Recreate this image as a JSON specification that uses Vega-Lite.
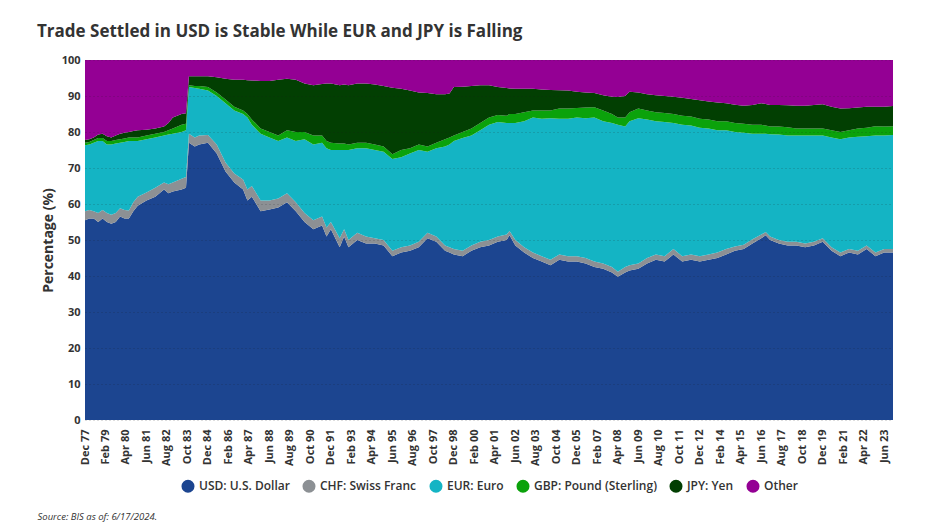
{
  "$schema": "https://vega.github.io/schema/vega-lite/v6.json",
  "width": 808,
  "height": 360,
  "autosize": "none",
  "padding": {"left": 85, "top": 60, "right": 50, "bottom": 109},
  "background": "white",
  "config": {
    "font": "Open Sans",
    "view": {"stroke": null}
  },
  "title": {
    "text": "Trade Settled in USD is Stable While EUR and JPY is Falling",
    "anchor": "start",
    "frame": "group",
    "dx": -48,
    "offset": 13,
    "fontSize": 17,
    "fontWeight": "bold",
    "color": "#333333"
  },
  "data": {
    "values": [
      {"d":"1977-12-01","USD":55.5,"CHF":2.5,"EUR":18.3,"GBP":0.7,"JPY":0.8,"Other":22.2},
      {"d":"1978-03-01","USD":56,"CHF":2.3,"EUR":18.2,"GBP":0.7,"JPY":0.8,"Other":22},
      {"d":"1978-06-01","USD":56,"CHF":2,"EUR":19,"GBP":0.8,"JPY":0.7,"Other":21.5},
      {"d":"1978-09-01","USD":55,"CHF":2.5,"EUR":20,"GBP":0.8,"JPY":1,"Other":20.7},
      {"d":"1978-12-01","USD":56,"CHF":2.3,"EUR":19.2,"GBP":0.8,"JPY":1.2,"Other":20.5},
      {"d":"1979-03-01","USD":55,"CHF":2.5,"EUR":19,"GBP":1,"JPY":1.3,"Other":21.2},
      {"d":"1979-06-01","USD":54.5,"CHF":2.5,"EUR":19.5,"GBP":1,"JPY":1,"Other":21.5},
      {"d":"1979-09-01","USD":55,"CHF":2.5,"EUR":19.3,"GBP":1,"JPY":1.2,"Other":21},
      {"d":"1979-12-01","USD":56.5,"CHF":2.3,"EUR":18.2,"GBP":1,"JPY":1.5,"Other":20.5},
      {"d":"1980-03-01","USD":56,"CHF":2.3,"EUR":18.9,"GBP":1,"JPY":1.6,"Other":20.2},
      {"d":"1980-06-01","USD":56,"CHF":2.2,"EUR":19.3,"GBP":1,"JPY":1.5,"Other":20},
      {"d":"1980-09-01","USD":58,"CHF":2.5,"EUR":17,"GBP":1,"JPY":1.8,"Other":19.7},
      {"d":"1980-12-01","USD":59.5,"CHF":2.5,"EUR":15.5,"GBP":1,"JPY":2,"Other":19.5},
      {"d":"1981-06-01","USD":61,"CHF":2.2,"EUR":14.8,"GBP":1,"JPY":1.6,"Other":19.4},
      {"d":"1981-12-01","USD":62,"CHF":2.5,"EUR":14,"GBP":1,"JPY":1.5,"Other":19},
      {"d":"1982-06-01","USD":64,"CHF":2,"EUR":13,"GBP":1,"JPY":1.5,"Other":18.5},
      {"d":"1982-09-01","USD":63,"CHF":2.5,"EUR":13.8,"GBP":1.2,"JPY":2,"Other":17.5},
      {"d":"1982-12-01","USD":63.5,"CHF":2.5,"EUR":13.5,"GBP":1.5,"JPY":3,"Other":16},
      {"d":"1983-06-01","USD":64,"CHF":3,"EUR":13,"GBP":2,"JPY":3,"Other":15},
      {"d":"1983-09-01","USD":64.5,"CHF":3,"EUR":13,"GBP":1.8,"JPY":2.9,"Other":14.8},
      {"d":"1983-11-01","USD":77,"CHF":2.5,"EUR":13,"GBP":0.5,"JPY":2.5,"Other":4.5},
      {"d":"1984-03-01","USD":76,"CHF":2.5,"EUR":13.7,"GBP":0.6,"JPY":2.7,"Other":4.5},
      {"d":"1984-06-01","USD":76.5,"CHF":2.5,"EUR":13,"GBP":0.8,"JPY":2.7,"Other":4.5},
      {"d":"1984-12-01","USD":77,"CHF":2.2,"EUR":12.3,"GBP":1,"JPY":3,"Other":4.5},
      {"d":"1985-06-01","USD":74,"CHF":2.5,"EUR":13.5,"GBP":1,"JPY":4.2,"Other":4.8},
      {"d":"1985-12-01","USD":69,"CHF":2.5,"EUR":16.5,"GBP":1,"JPY":5.8,"Other":5.2},
      {"d":"1986-06-01","USD":66,"CHF":2.5,"EUR":17.5,"GBP":1,"JPY":7.5,"Other":5.5},
      {"d":"1986-12-01","USD":64,"CHF":2.8,"EUR":18.2,"GBP":1,"JPY":8.5,"Other":5.5},
      {"d":"1987-03-01","USD":61,"CHF":3,"EUR":20,"GBP":1,"JPY":9.4,"Other":5.6},
      {"d":"1987-06-01","USD":62,"CHF":3,"EUR":17,"GBP":1.5,"JPY":10.8,"Other":5.7},
      {"d":"1987-12-01","USD":58,"CHF":3,"EUR":18.5,"GBP":1.5,"JPY":13.2,"Other":5.8},
      {"d":"1988-06-01","USD":58.5,"CHF":2.5,"EUR":17.5,"GBP":1.5,"JPY":14.2,"Other":5.8},
      {"d":"1988-12-01","USD":59,"CHF":2.5,"EUR":16,"GBP":1.5,"JPY":15.5,"Other":5.5},
      {"d":"1989-06-01","USD":60.5,"CHF":2.5,"EUR":15.5,"GBP":2,"JPY":14.3,"Other":5.2},
      {"d":"1989-12-01","USD":58,"CHF":2.5,"EUR":17,"GBP":2.5,"JPY":14.5,"Other":5.5},
      {"d":"1990-06-01","USD":55,"CHF":2.5,"EUR":20.5,"GBP":2,"JPY":13.5,"Other":6.5},
      {"d":"1990-12-01","USD":53,"CHF":2.5,"EUR":21,"GBP":2.5,"JPY":14,"Other":7},
      {"d":"1991-06-01","USD":54,"CHF":2.5,"EUR":20.5,"GBP":2,"JPY":14.3,"Other":6.7},
      {"d":"1991-09-01","USD":51,"CHF":2.5,"EUR":22,"GBP":2,"JPY":16,"Other":6.5},
      {"d":"1991-12-01","USD":53,"CHF":2,"EUR":20,"GBP":2,"JPY":16.5,"Other":6.5},
      {"d":"1992-06-01","USD":48,"CHF":2.5,"EUR":24.5,"GBP":1.8,"JPY":16.2,"Other":7},
      {"d":"1992-09-01","USD":51,"CHF":2,"EUR":22,"GBP":1.8,"JPY":16.4,"Other":6.8},
      {"d":"1992-12-01","USD":48,"CHF":2,"EUR":25,"GBP":1.5,"JPY":16.5,"Other":7},
      {"d":"1993-06-01","USD":50,"CHF":2,"EUR":23.5,"GBP":1.5,"JPY":16.5,"Other":6.5},
      {"d":"1993-12-01","USD":49,"CHF":2,"EUR":24.5,"GBP":1.5,"JPY":16.5,"Other":6.5},
      {"d":"1994-06-01","USD":49,"CHF":1.5,"EUR":24.5,"GBP":1.5,"JPY":16.7,"Other":6.8},
      {"d":"1994-12-01","USD":48.5,"CHF":1.5,"EUR":24.5,"GBP":1.5,"JPY":16.8,"Other":7.2},
      {"d":"1995-06-01","USD":45.5,"CHF":1.5,"EUR":25.5,"GBP":1.3,"JPY":18.5,"Other":7.7},
      {"d":"1995-12-01","USD":46.5,"CHF":1.5,"EUR":25,"GBP":2,"JPY":17,"Other":8},
      {"d":"1996-06-01","USD":47,"CHF":1.5,"EUR":25.5,"GBP":1.5,"JPY":16,"Other":8.5},
      {"d":"1996-12-01","USD":48,"CHF":1.5,"EUR":25.5,"GBP":1.5,"JPY":14.5,"Other":9},
      {"d":"1997-06-01","USD":50.5,"CHF":1.5,"EUR":22.5,"GBP":1.5,"JPY":14.8,"Other":9.2},
      {"d":"1997-12-01","USD":49.5,"CHF":1.5,"EUR":24.5,"GBP":1.5,"JPY":13.5,"Other":9.5},
      {"d":"1998-06-01","USD":47,"CHF":1.5,"EUR":27.5,"GBP":2,"JPY":12.5,"Other":9.5},
      {"d":"1998-09-01","USD":46.5,"CHF":1.5,"EUR":28.5,"GBP":2,"JPY":12.2,"Other":9.3},
      {"d":"1998-12-01","USD":46,"CHF":1.5,"EUR":30,"GBP":1.5,"JPY":13.5,"Other":7.5},
      {"d":"1999-06-01","USD":45.5,"CHF":1.5,"EUR":31.3,"GBP":1.7,"JPY":12.6,"Other":7.4},
      {"d":"1999-12-01","USD":47,"CHF":1.5,"EUR":30.5,"GBP":2,"JPY":11.8,"Other":7.2},
      {"d":"2000-06-01","USD":48,"CHF":1.5,"EUR":31,"GBP":2,"JPY":10.5,"Other":7},
      {"d":"2000-12-01","USD":48.5,"CHF":1.5,"EUR":32,"GBP":2,"JPY":9,"Other":7},
      {"d":"2001-06-01","USD":49.5,"CHF":1.5,"EUR":31.8,"GBP":1.9,"JPY":7.8,"Other":7.5},
      {"d":"2001-12-01","USD":50,"CHF":1.5,"EUR":31,"GBP":2,"JPY":7.7,"Other":7.8},
      {"d":"2002-02-01","USD":51.3,"CHF":1.2,"EUR":30,"GBP":2.5,"JPY":7.1,"Other":7.9},
      {"d":"2002-06-01","USD":48.5,"CHF":1.5,"EUR":32.5,"GBP":2.5,"JPY":7,"Other":8},
      {"d":"2002-12-01","USD":46.5,"CHF":1.5,"EUR":35,"GBP":2.5,"JPY":6.5,"Other":8},
      {"d":"2003-06-01","USD":45,"CHF":1.5,"EUR":37.5,"GBP":2,"JPY":6,"Other":8},
      {"d":"2003-12-01","USD":44,"CHF":1.5,"EUR":38.2,"GBP":2.3,"JPY":5.8,"Other":8.2},
      {"d":"2004-06-01","USD":43,"CHF":1.5,"EUR":39.3,"GBP":2.2,"JPY":5.7,"Other":8.3},
      {"d":"2004-12-01","USD":44.5,"CHF":1.5,"EUR":37.7,"GBP":2.8,"JPY":5.1,"Other":8.4},
      {"d":"2005-06-01","USD":44,"CHF":1.5,"EUR":38.2,"GBP":2.8,"JPY":5,"Other":8.5},
      {"d":"2005-12-01","USD":44,"CHF":1.5,"EUR":38.5,"GBP":2.7,"JPY":4.5,"Other":8.8},
      {"d":"2006-06-01","USD":43.5,"CHF":1.5,"EUR":38.8,"GBP":3,"JPY":4.2,"Other":9},
      {"d":"2006-12-01","USD":42.5,"CHF":1.5,"EUR":40,"GBP":2.9,"JPY":3.9,"Other":9.2},
      {"d":"2007-06-01","USD":42,"CHF":1.5,"EUR":39.5,"GBP":3,"JPY":4.2,"Other":9.8},
      {"d":"2007-12-01","USD":41,"CHF":1.5,"EUR":40,"GBP":2.5,"JPY":4.8,"Other":10.2},
      {"d":"2008-04-01","USD":39.8,"CHF":1.4,"EUR":40.8,"GBP":2,"JPY":5.7,"Other":10.3},
      {"d":"2008-09-01","USD":41,"CHF":1.5,"EUR":39,"GBP":2.5,"JPY":6,"Other":10},
      {"d":"2008-12-01","USD":41.5,"CHF":1.5,"EUR":40,"GBP":2.5,"JPY":5.7,"Other":8.8},
      {"d":"2009-06-01","USD":42,"CHF":1.5,"EUR":40.3,"GBP":2.7,"JPY":4.5,"Other":9},
      {"d":"2009-12-01","USD":43.5,"CHF":1.5,"EUR":38.5,"GBP":2.5,"JPY":4.5,"Other":9.5},
      {"d":"2010-06-01","USD":44.5,"CHF":1.5,"EUR":37,"GBP":2.5,"JPY":4.7,"Other":9.8},
      {"d":"2010-12-01","USD":44,"CHF":1.5,"EUR":37.3,"GBP":2.5,"JPY":4.7,"Other":10},
      {"d":"2011-06-01","USD":46,"CHF":1.5,"EUR":35,"GBP":2.5,"JPY":4.8,"Other":10.2},
      {"d":"2011-12-01","USD":44,"CHF":1.5,"EUR":36.5,"GBP":2.5,"JPY":5,"Other":10.5},
      {"d":"2012-06-01","USD":44.5,"CHF":1.5,"EUR":35.8,"GBP":2.5,"JPY":4.9,"Other":10.8},
      {"d":"2012-12-01","USD":44,"CHF":1.5,"EUR":35.7,"GBP":2.5,"JPY":5.1,"Other":11.2},
      {"d":"2013-06-01","USD":44.5,"CHF":1.5,"EUR":35,"GBP":2.5,"JPY":5,"Other":11.5},
      {"d":"2013-12-01","USD":45,"CHF":1.5,"EUR":34,"GBP":2.5,"JPY":5.2,"Other":11.8},
      {"d":"2014-06-01","USD":46,"CHF":1.5,"EUR":33,"GBP":2.5,"JPY":5,"Other":12},
      {"d":"2014-12-01","USD":47,"CHF":1.2,"EUR":31.8,"GBP":2.5,"JPY":5.1,"Other":12.4},
      {"d":"2015-06-01","USD":47.5,"CHF":1.2,"EUR":31.1,"GBP":2.5,"JPY":5,"Other":12.7},
      {"d":"2015-12-01","USD":49,"CHF":1.2,"EUR":29.3,"GBP":2.5,"JPY":5.5,"Other":12.5},
      {"d":"2016-06-01","USD":50.5,"CHF":1,"EUR":28,"GBP":2.5,"JPY":6,"Other":12},
      {"d":"2016-09-01","USD":51.3,"CHF":0.9,"EUR":27.3,"GBP":2.3,"JPY":6,"Other":12.2},
      {"d":"2016-12-01","USD":50,"CHF":1,"EUR":28.4,"GBP":2.1,"JPY":6,"Other":12.5},
      {"d":"2017-06-01","USD":49,"CHF":1,"EUR":29.3,"GBP":2.2,"JPY":6,"Other":12.5},
      {"d":"2017-12-01","USD":48.5,"CHF":1,"EUR":29.5,"GBP":2.3,"JPY":6.1,"Other":12.6},
      {"d":"2018-06-01","USD":48.5,"CHF":1,"EUR":29.5,"GBP":2,"JPY":6.3,"Other":12.7},
      {"d":"2018-12-01","USD":48,"CHF":1,"EUR":30,"GBP":2,"JPY":6.3,"Other":12.7},
      {"d":"2019-06-01","USD":48.5,"CHF":1,"EUR":29.5,"GBP":2,"JPY":6.5,"Other":12.5},
      {"d":"2019-12-01","USD":49.5,"CHF":1,"EUR":28.5,"GBP":2,"JPY":6.7,"Other":12.3},
      {"d":"2020-06-01","USD":47,"CHF":1,"EUR":30.5,"GBP":2,"JPY":6.5,"Other":13},
      {"d":"2020-12-01","USD":45.5,"CHF":1,"EUR":31.5,"GBP":2,"JPY":6.5,"Other":13.5},
      {"d":"2021-06-01","USD":46.5,"CHF":1,"EUR":31,"GBP":2,"JPY":6.1,"Other":13.4},
      {"d":"2021-12-01","USD":46,"CHF":1,"EUR":31.7,"GBP":2.3,"JPY":5.8,"Other":13.2},
      {"d":"2022-06-01","USD":47.5,"CHF":1,"EUR":30.3,"GBP":2.4,"JPY":5.8,"Other":13},
      {"d":"2022-12-01","USD":45.5,"CHF":1,"EUR":32.5,"GBP":2.6,"JPY":5.4,"Other":13},
      {"d":"2023-06-01","USD":46.5,"CHF":1,"EUR":31.5,"GBP":2.5,"JPY":5.5,"Other":13},
      {"d":"2023-12-01","USD":46.5,"CHF":1,"EUR":31.7,"GBP":2.4,"JPY":5.6,"Other":12.8}
    ]
  },
  "transform": [
    {"fold": ["USD", "CHF", "EUR", "GBP", "JPY", "Other"], "as": ["k", "share"]},
    {
      "lookup": "k",
      "from": {
        "data": {
          "values": [
            {"k": "USD", "label": "USD: U.S. Dollar", "ord": 0},
            {"k": "CHF", "label": "CHF: Swiss Franc", "ord": 1},
            {"k": "EUR", "label": "EUR: Euro", "ord": 2},
            {"k": "GBP", "label": "GBP: Pound (Sterling)", "ord": 3},
            {"k": "JPY", "label": "JPY: Yen", "ord": 4},
            {"k": "Other", "label": "Other", "ord": 5}
          ]
        },
        "key": "k",
        "fields": ["label", "ord"]
      }
    }
  ],
  "mark": {"type": "area", "interpolate": "linear"},
  "encoding": {
    "x": {
      "field": "d",
      "type": "temporal",
      "scale": {"type": "utc", "domain": [{"year": 1977, "month": 12, "date": 1, "utc": true}, {"year": 2023, "month": 12, "date": 1, "utc": true}]},
      "axis": {
        "title": "Source: BIS as of: 6/17/2024.",
        "titleX": -48,
        "titleY": 96,
        "titleAlign": "left",
        "titleAnchor": null,
        "titleBaseline": "middle",
        "titleFontSize": 9.5,
        "titleFontStyle": "italic",
        "titleFontWeight": "normal",
        "titleColor": "#333333",
        "labelExpr": "utcFormat(datum.value, '%b %y')",
        "labelAngle": 270,
        "labelAlign": "right",
        "labelBaseline": "middle",
        "labelFontSize": 11,
        "labelFontWeight": "bold",
        "labelColor": "#333333",
        "labelPadding": 9,
        "labelOverlap": false,
        "labelFlush": false,
        "ticks": false,
        "domain": false,
        "grid": false,
        "values": [
          {"year": 1977, "month": 12, "date": 1, "utc": true},
          {"year": 1979, "month": 2, "date": 1, "utc": true},
          {"year": 1980, "month": 4, "date": 1, "utc": true},
          {"year": 1981, "month": 6, "date": 1, "utc": true},
          {"year": 1982, "month": 8, "date": 1, "utc": true},
          {"year": 1983, "month": 10, "date": 1, "utc": true},
          {"year": 1984, "month": 12, "date": 1, "utc": true},
          {"year": 1986, "month": 2, "date": 1, "utc": true},
          {"year": 1987, "month": 4, "date": 1, "utc": true},
          {"year": 1988, "month": 6, "date": 1, "utc": true},
          {"year": 1989, "month": 8, "date": 1, "utc": true},
          {"year": 1990, "month": 10, "date": 1, "utc": true},
          {"year": 1991, "month": 12, "date": 1, "utc": true},
          {"year": 1993, "month": 2, "date": 1, "utc": true},
          {"year": 1994, "month": 4, "date": 1, "utc": true},
          {"year": 1995, "month": 6, "date": 1, "utc": true},
          {"year": 1996, "month": 8, "date": 1, "utc": true},
          {"year": 1997, "month": 10, "date": 1, "utc": true},
          {"year": 1998, "month": 12, "date": 1, "utc": true},
          {"year": 2000, "month": 2, "date": 1, "utc": true},
          {"year": 2001, "month": 4, "date": 1, "utc": true},
          {"year": 2002, "month": 6, "date": 1, "utc": true},
          {"year": 2003, "month": 8, "date": 1, "utc": true},
          {"year": 2004, "month": 10, "date": 1, "utc": true},
          {"year": 2005, "month": 12, "date": 1, "utc": true},
          {"year": 2007, "month": 2, "date": 1, "utc": true},
          {"year": 2008, "month": 4, "date": 1, "utc": true},
          {"year": 2009, "month": 6, "date": 1, "utc": true},
          {"year": 2010, "month": 8, "date": 1, "utc": true},
          {"year": 2011, "month": 10, "date": 1, "utc": true},
          {"year": 2012, "month": 12, "date": 1, "utc": true},
          {"year": 2014, "month": 2, "date": 1, "utc": true},
          {"year": 2015, "month": 4, "date": 1, "utc": true},
          {"year": 2016, "month": 6, "date": 1, "utc": true},
          {"year": 2017, "month": 8, "date": 1, "utc": true},
          {"year": 2018, "month": 10, "date": 1, "utc": true},
          {"year": 2019, "month": 12, "date": 1, "utc": true},
          {"year": 2021, "month": 2, "date": 1, "utc": true},
          {"year": 2022, "month": 4, "date": 1, "utc": true},
          {"year": 2023, "month": 6, "date": 1, "utc": true}
        ]
      }
    },
    "y": {
      "field": "share",
      "type": "quantitative",
      "stack": "zero",
      "scale": {"domain": [0, 100], "nice": false},
      "axis": {
        "title": "Percentage (%)",
        "titleFontSize": 14,
        "titleFontWeight": "bold",
        "titleColor": "#333333",
        "titlePadding": 6,
        "values": [0, 10, 20, 30, 40, 50, 60, 70, 80, 90, 100],
        "labelFontSize": 11,
        "labelFontWeight": "bold",
        "labelColor": "#333333",
        "labelPadding": 5,
        "ticks": false,
        "domain": false,
        "grid": true,
        "gridColor": "#1a1a1a",
        "gridOpacity": 0.3,
        "gridDash": [1, 3],
        "gridWidth": 1,
        "zindex": 1
      }
    },
    "color": {
      "field": "label",
      "type": "nominal",
      "scale": {
        "domain": ["USD: U.S. Dollar", "CHF: Swiss Franc", "EUR: Euro", "GBP: Pound (Sterling)", "JPY: Yen", "Other"],
        "range": ["#1c4590", "#8c9094", "#14b4c4", "#0ba20b", "#023f02", "#940094"]
      },
      "legend": {
        "title": null,
        "orient": "none",
        "direction": "horizontal",
        "legendX": 96,
        "legendY": 419,
        "symbolType": "circle",
        "symbolSize": 170,
        "symbolStrokeWidth": 0,
        "symbolOpacity": 1,
        "labelFontSize": 12,
        "labelFontWeight": 600,
        "labelColor": "#333333",
        "labelOffset": 4,
        "columnPadding": 12,
        "labelLimit": 300
      }
    },
    "order": {"field": "ord", "type": "quantitative", "sort": "ascending"}
  }
}
